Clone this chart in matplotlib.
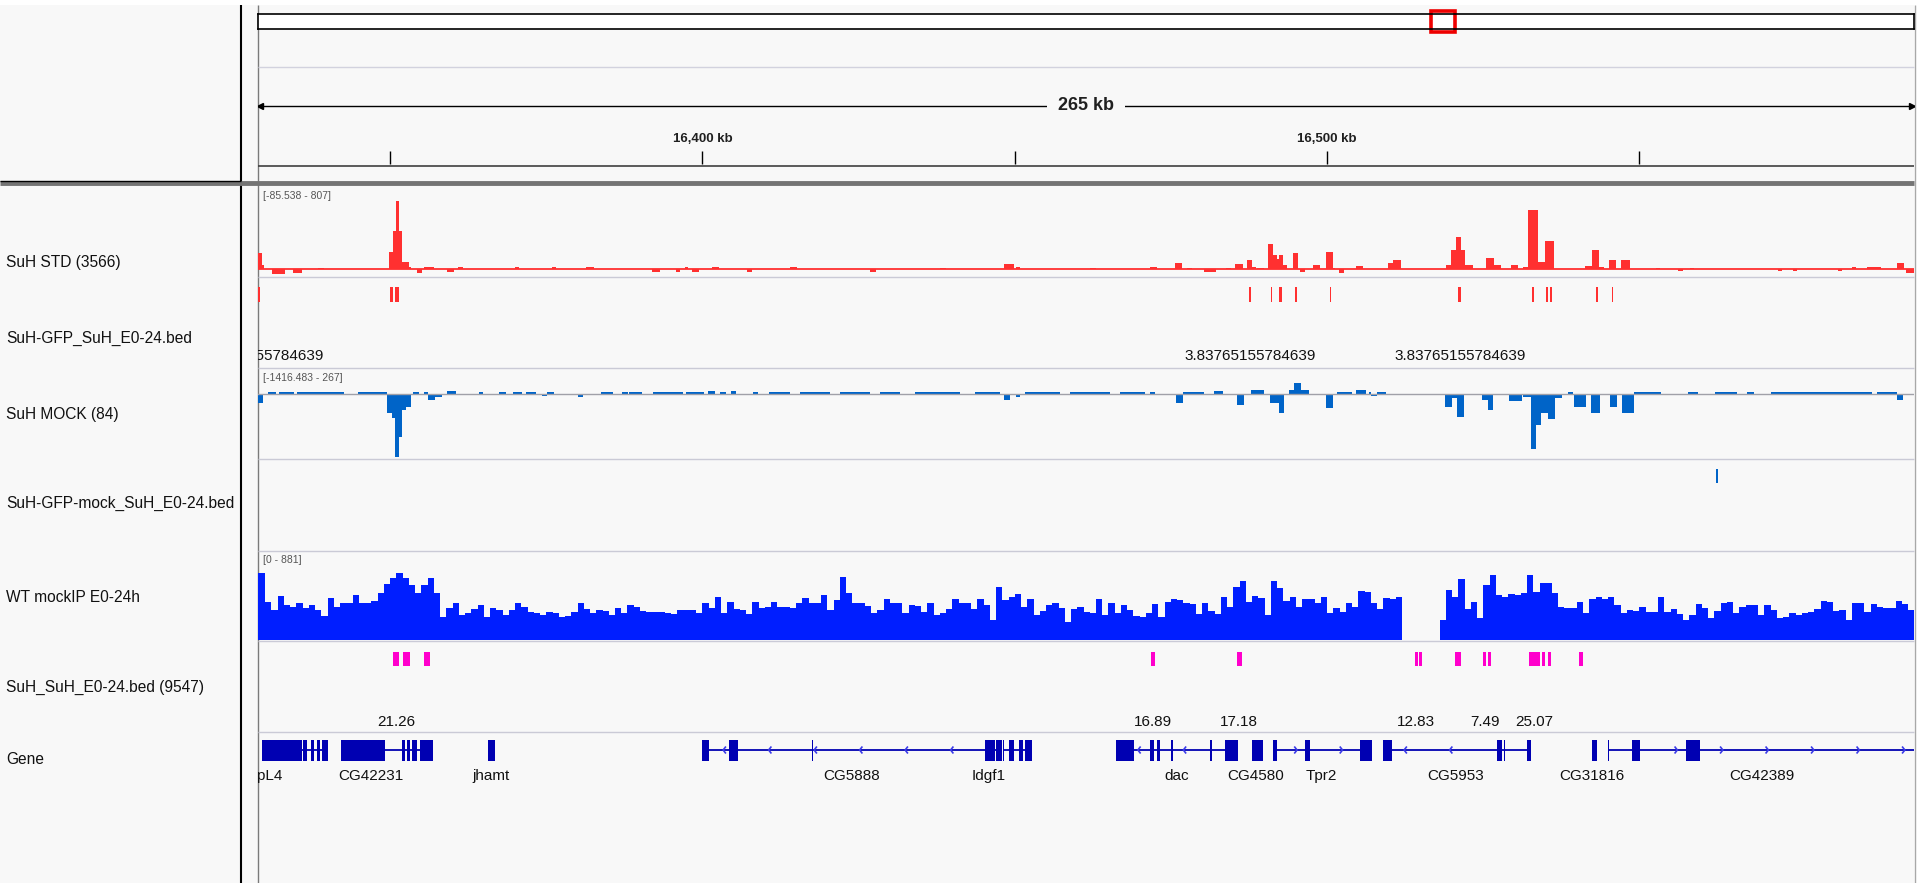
import numpy as np
import matplotlib.pyplot as plt
from matplotlib.patches import Rectangle
from matplotlib.collections import LineCollection

plt.rcParams['font.family'] = ['Liberation Sans', 'DejaVu Sans']

W, H = 1920, 883
REGION = (16328.85, 16593.95)   # chr2L, kb
CHROM_LEN = 23011.544           # chr2L length, kb

RED = '#ff3030'
MOCK_BLUE = '#0064c8'
WT_BLUE = '#001eff'
GENE_BLUE = '#0000b2'
MAGENTA = '#ff00cc'
PANEL = '#f8f8f8'

# ---- ruler ----
ruler_ticks = [16350, 16400, 16450, 16500, 16550]
ruler_labeled = [16400, 16500]

# ---- track names ----
track_names = ['SuH STD (3566)', 'SuH-GFP_SuH_E0-24.bed', 'SuH MOCK (84)',
               'SuH-GFP-mock_SuH_E0-24.bed', 'WT mockIP E0-24h',
               'SuH_SuH_E0-24.bed (9547)', 'Gene']

# ---- SuH STD coverage (kb start, kb end, value) ----
std_start = [16328.85, 16329.49, 16331.1, 16334.5, 16338.5, 16349.8, 16350.5, 16350.9,
             16351.4, 16351.9, 16353.0, 16354.3, 16355.4, 16359.1, 16360.9, 16370.0,
             16375.9, 16381.4, 16391.9, 16395.8, 16397.2, 16398.3, 16401.5, 16407.1,
             16414.0, 16426.8, 16438.0, 16448.3, 16450.2, 16462.1, 16471.7, 16475.7,
             16477.6, 16480.3, 16483.8, 16485.2, 16487.2, 16488.0, 16488.8, 16490.6,
             16491.4, 16491.9, 16492.3, 16492.9, 16494.6, 16495.7, 16497.8, 16499.8,
             16500.9, 16501.9, 16504.6, 16509.8, 16510.6, 16519.0, 16519.8, 16520.6,
             16521.4, 16522.0, 16525.4, 16526.7, 16529.5, 16531.4, 16532.2, 16533.8,
             16534.9, 16541.3, 16542.4, 16543.6, 16545.1, 16547.1, 16552.7, 16556.2,
             16558.1, 16572.2, 16574.6, 16581.8, 16584.1, 16586.5, 16591.2, 16592.7]
std_end = [16329.49, 16329.8, 16333.2, 16335.9, 16339.4, 16350.5, 16350.9, 16351.4,
           16351.9, 16353.0, 16353.4, 16355.1, 16357.0, 16360.2, 16361.7, 16370.6,
           16376.6, 16382.6, 16393.2, 16396.4, 16397.7, 16399.4, 16402.6, 16407.9,
           16415.1, 16427.8, 16439.0, 16449.9, 16450.85, 16463.0, 16472.8, 16476.8,
           16478.4, 16482.2, 16484.6, 16486.5, 16488.0, 16488.6, 16489.9, 16491.4,
           16491.9, 16492.3, 16492.9, 16493.6, 16495.4, 16496.5, 16498.8, 16500.9,
           16501.3, 16502.7, 16505.8, 16510.6, 16511.8, 16519.8, 16520.6, 16521.4,
           16522.0, 16523.3, 16526.7, 16527.8, 16530.6, 16532.2, 16533.8, 16534.9,
           16536.3, 16542.4, 16543.6, 16544.3, 16546.2, 16548.5, 16553.3, 16557.0,
           16558.8, 16572.8, 16575.3, 16582.5, 16584.7, 16588.7, 16592.4, 16594.0]
std_val = [185, 48, -52, -40, 15, 196, 431, 766,
           431, 85, 28, -40, 25, -30, 22, 22,
           22, 22, -30, -30, 22, -30, 22, -30,
           30, -25, 20, 55, 25, 20, 30, 75,
           20, -25, 20, 56, 104, 30, 10, 283,
           160, 112, 160, 48, 179, -25, 48, 196,
           20, -37, 37, 67, 104, 48, 216, 357,
           216, 48, 123, 48, 48, 30, 664, 85,
           320, 37, 212, 22, 104, 104, 20, -20,
           15, -20, -20, -20, 22, 22, 67, -37]

# ---- SuH MOCK coverage ----
mock_start = [16328.85, 16349.58, 16350.27, 16350.85, 16351.47, 16351.98, 16352.54, 16355.99,
              16357.12, 16374.29, 16380.0, 16448.28, 16450.21, 16475.74, 16485.65, 16490.92,
              16492.27, 16499.8, 16507.04, 16518.84, 16520.01, 16520.81, 16524.73, 16525.77,
              16529.06, 16531.43, 16532.61, 16533.4, 16534.18, 16535.35, 16536.53, 16539.55,
              16542.28, 16545.28, 16547.15, 16591.19,
              16330.45, 16332.15, 16335.09, 16344.86, 16353.67, 16355.43, 16359.11, 16364.23,
              16367.43, 16369.68, 16371.76, 16375.12, 16383.72, 16387.13, 16388.25, 16392.01,
              16397.37, 16400.89, 16402.81, 16404.57, 16408.02, 16410.6, 16415.62, 16422.03,
              16428.43, 16434.04, 16443.64, 16451.65, 16458.85, 16466.86, 16471.66, 16476.85,
              16481.87, 16487.78, 16493.87, 16494.67, 16495.84, 16501.54, 16504.64, 16506.65,
              16508.0, 16538.5, 16549.12, 16557.76, 16562.09, 16567.21, 16571.13, 16588.05]
mock_end = [16329.65, 16350.27, 16350.85, 16351.47, 16351.98, 16352.54, 16353.41, 16357.12,
            16358.28, 16375.12, 16380.88, 16449.25, 16450.85, 16476.85, 16486.75, 16492.27,
            16493.05, 16500.9, 16508.0, 16520.01, 16520.81, 16521.98, 16525.77, 16526.54,
            16531.27, 16532.61, 16533.4, 16534.18, 16535.35, 16536.53, 16537.56, 16541.5,
            16543.71, 16546.39, 16549.12, 16592.14,
            16331.73, 16334.55, 16342.55, 16349.58, 16354.56, 16355.99, 16360.55, 16364.87,
            16368.55, 16371.12, 16373.36, 16376.24, 16385.69, 16388.01, 16390.33, 16396.89,
            16400.25, 16402.01, 16403.77, 16405.38, 16408.9, 16414.03, 16420.43, 16426.83,
            16431.63, 16441.24, 16447.64, 16457.25, 16465.26, 16470.86, 16472.46, 16480.3,
            16483.3, 16489.9, 16494.67, 16495.84, 16497.08, 16503.91, 16506.24, 16507.04,
            16509.37, 16539.29, 16553.44, 16559.33, 16565.64, 16568.36, 16587.25, 16591.19]
mock_val = [-183, -416, -525, -1364, -927, -343, -271, -125,
            -66, -37, -66, -130, -60, -197, -234, -197,
            -402, -306, -37, -271, -80, -503, -125, -343,
            -139, -51, -1203, -671, -416, -547, -80, -271,
            -416, -271, -402, -125,
            45, 45, 45, 45, 45, 45, 79, 45,
            45, 45, 45, 45, 45, 45, 45, 45,
            45, 79, 45, 79, 45, 45, 45, 45,
            45, 45, 45, 45, 45, 45, 45, 45,
            79, 88, 88, 254, 88, 45, 88, 45,
            45, 45, 45, 45, 45, 45, 45, 45]

# ---- WT mockIP coverage, 1 kb bins from 16,329 kb ----
wt_first_bin = 16329
wt_val = [734, 422, 330, 484, 385, 360, 404, 356, 385, 330, 264, 459, 367, 404, 404, 495,
          404, 411, 433, 514, 617, 679, 741, 679, 606, 514, 606, 679, 514, 257, 349, 404,
          275, 294, 338, 385, 257, 349, 330, 275, 330, 411, 367, 312, 294, 275, 312, 294,
          257, 264, 312, 404, 338, 294, 330, 323, 275, 349, 294, 385, 367, 323, 312, 305,
          305, 294, 290, 330, 330, 330, 301, 411, 349, 470, 294, 422, 338, 330, 286, 422,
          349, 367, 422, 367, 367, 349, 411, 459, 404, 404, 495, 330, 440, 690, 514, 404,
          404, 374, 294, 330, 448, 404, 411, 294, 385, 374, 312, 411, 275, 294, 338, 448,
          411, 411, 338, 448, 385, 220, 587, 440, 477, 506, 367, 448, 275, 323, 385, 411,
          349, 202, 338, 367, 312, 294, 448, 275, 411, 294, 385, 330, 264, 257, 301, 396,
          257, 422, 448, 440, 411, 396, 286, 411, 323, 286, 470, 367, 580, 653, 422, 484,
          459, 275, 653, 569, 433, 477, 367, 448, 448, 411, 470, 294, 349, 312, 404, 367,
          543, 532, 404, 338, 459, 448, 470, 0, 0, 0, 0, 0, 0, 220, 551, 477,
          668, 338, 422, 239, 606, 716, 495, 475, 506, 495, 521, 716, 532, 624, 631, 514,
          367, 349, 349, 422, 301, 448, 477, 448, 470, 385, 301, 330, 323, 367, 312, 312,
          470, 312, 338, 286, 220, 275, 396, 349, 239, 323, 411, 422, 294, 367, 385, 385,
          275, 385, 330, 239, 250, 294, 275, 301, 312, 338, 433, 422, 323, 330, 220, 411,
          411, 312, 396, 367, 349, 349, 433, 396, 330]

# ---- BED features ----
red_start = [16328.7, 16350.0, 16350.85, 16487.5, 16491.0, 16492.3, 16494.9, 16500.4,
             16521.0, 16532.8, 16535.05, 16535.6, 16543.0, 16545.6]
red_end = [16329.1, 16350.5, 16351.5, 16487.8, 16491.2, 16492.7, 16495.1, 16500.6,
           16521.5, 16533.05, 16535.3, 16536.0, 16543.4, 16545.8]
red_label = ['3.83765155784639', '', '', '3.83765155784639', '', '', '', '',
             '3.83765155784639', '', '', '', '', '']

mockbed_start = [16562.2]
mockbed_end = [16562.5]

mag_start = [16350.5, 16352.1, 16355.4, 16471.85, 16485.5, 16514.05, 16514.7, 16520.5,
             16524.95, 16525.8, 16532.3, 16534.4, 16535.3, 16540.4]
mag_end = [16351.5, 16353.2, 16356.4, 16472.4, 16486.3, 16514.5, 16515.15, 16521.4,
           16525.45, 16526.3, 16534.05, 16534.9, 16535.8, 16540.9]
mag_score = ['21.26', '', '', '16.89', '17.18', '12.83', '', '', '7.49', '', '25.07', '', '', '']

# ---- genes ----
gene_names = ['RpL4', 'CG42231', 'jhamt', 'CG5888', 'Idgf1', 'dac', 'CG4580', 'Tpr2',
              'CG5953', 'CG31816', 'CG42389']
gene_strand = ['+', '+', '+', '-', '-', '-', '+', '+', '-', '+', '+']
gene_start = [16329.49, 16342.14, 16365.59, 16399.89, 16448.04, 16466.28, 16487.90, 16491.32,
              16508.90, 16542.34, 16544.92]
gene_end = [16340.06, 16356.87, 16366.79, 16447.90, 16452.70, 16485.75, 16489.78, 16507.20,
            16532.65, 16543.22, 16600.0]
gene_label_kb = [16329.97, 16346.91, 16366.15, 16423.95, 16445.82, 16475.98, 16488.63,
                 16499.13, 16520.59, 16542.42, 16569.57]
gene_exons = [
    [(16329.49, 16335.83), (16336.13, 16336.77), (16337.26, 16337.82), (16338.30, 16338.78),
     (16339.10, 16340.06)],
    [(16342.14, 16349.18), (16351.90, 16352.38), (16352.70, 16353.26), (16353.58, 16354.31),
     (16354.71, 16356.87)],
    [(16365.59, 16366.79)],
    [(16399.89, 16401.01), (16404.18, 16405.70), (16417.46, 16417.63), (16445.16, 16446.88),
     (16447.05, 16447.90)],
    [(16448.04, 16448.28), (16449.02, 16449.89), (16450.69, 16451.33), (16451.59, 16452.70)],
    [(16466.28, 16469.03), (16471.60, 16472.28), (16472.72, 16473.31), (16475.02, 16475.34),
     (16481.27, 16481.59), (16483.61, 16485.75)],
    [(16487.90, 16489.78)],
    [(16491.32, 16491.99), (16496.47, 16497.32), (16505.22, 16507.20)],
    [(16508.90, 16510.35), (16527.16, 16528.01), (16528.36, 16528.52), (16532.01, 16532.65)],
    [(16542.34, 16543.22)],
    [(16544.92, 16545.08), (16548.78, 16550.06), (16557.52, 16559.75)],
]

# ======================================================================
fig = plt.figure(figsize=(W / 100, H / 100), dpi=100, facecolor='white')
PX_PER_KB = (1914 - 258) / (REGION[1] - REGION[0])


def px_axes(x0, y0, x1, y1, xlim=REGION):
    ax = fig.add_axes([x0 / W, 1 - y1 / H, (x1 - x0) / W, (y1 - y0) / H])
    ax.set_xlim(*xlim)
    ax.axis('off')
    return ax


# background and panel frame
base = fig.add_axes([0, 0, 1, 1])
base.set_xlim(0, W)
base.set_ylim(H, 0)
base.axis('off')
base.add_patch(Rectangle((0, 5), 1914, H - 5, color=PANEL, lw=0))
base.vlines(241, 5, H, color='black', lw=1.5)
base.vlines(258, 5, H, color='#7a7a7a', lw=1)
base.vlines(1914.5, 5, H, color='#a8a8a8', lw=1)
base.hlines(66.5, 258, 1914, color='#d2d2de', lw=1)
base.hlines(166, 258, 1914, color='#404040', lw=1.2)
base.hlines(183, 0, 1914, color='#747474', lw=3.5)
base.hlines(180.5, 0, 241, color='black', lw=1)
base.hlines([277, 367.5, 459, 550.5, 641, 731.5], 258, 1914, color='#cacad6', lw=1)

# chromosome ideogram
ideo = px_axes(258, 13.5, 1914, 28.5, xlim=(0, CHROM_LEN))
ideo.axis('on')
ideo.set_facecolor('white')
ideo.set_xticks([])
ideo.set_yticks([])
for sp in ideo.spines.values():
    sp.set_linewidth(1.2)
box_w = 24 / 1656 * CHROM_LEN
ideo.add_patch(Rectangle((sum(REGION) / 2 - box_w / 2, -0.2), box_w, 1.4,
                         fill=False, ec='#ee0000', lw=2.6, clip_on=False))
ideo.set_ylim(0, 1)

# ruler
ruler = px_axes(258, 90, 1914, 166)
ruler.set_ylim(166, 90)
span_kb = REGION[1] - REGION[0]
ruler.plot([REGION[0] + 0.15, REGION[1] - 0.15], [106, 106], color='black', lw=1)
ruler.plot([REGION[0] + 0.4], [106], marker='<', color='black', ms=5)
ruler.plot([REGION[1] - 0.4], [106], marker='>', color='black', ms=5)
ruler.text(sum(REGION) / 2, 106, f'{span_kb:.0f} kb', ha='center', va='center',
           fontsize=13, fontweight='bold', color='#202020',
           bbox=dict(boxstyle='square,pad=0.6', fc=PANEL, ec='none'))
ruler.vlines(ruler_ticks, 151, 164, color='black', lw=1)
for t in ruler_labeled:
    ruler.text(t, 139, f'{t:,} kb', ha='center', va='center', fontsize=9.5,
               fontweight='bold', color='#202020')

# track names
name_y = [263, 338, 414, 503, 597.6, 687, 759]
for name, y in zip(track_names, name_y):
    base.text(6, y, name, ha='left', va='center', fontsize=11.2, color='#111111')

# data range labels
base.text(263, 196, '[-85.538 - 807]', fontsize=7.5, color='#555555', va='center')
base.text(263, 378, '[-1416.483 - 267]', fontsize=7.5, color='#555555', va='center')
base.text(263, 560, '[0 - 881]', fontsize=7.5, color='#555555', va='center')

# SuH STD
std_ax = px_axes(258, 197, 1914, 277)
std_ax.set_ylim(-85.538, 807)
std_ax.axhline(0, color=RED, lw=1.3)
std_ax.bar(std_start, std_val, width=np.subtract(std_end, std_start), align='edge',
           color=RED, lw=0)

# SuH MOCK
mock_ax = px_axes(258, 382, 1914, 459)
mock_ax.set_ylim(-1416.483, 267)
mock_ax.axhline(0, color='#a0a0a8', lw=1)
mock_ax.bar(mock_start, mock_val, width=np.subtract(mock_end, mock_start), align='edge',
            color=MOCK_BLUE, lw=0)

# WT mockIP
wt_ax = px_axes(258, 560, 1914, 640)
wt_ax.set_ylim(0, 881)
edges = wt_first_bin + np.arange(len(wt_val) + 1, dtype=float)
edges[0] = REGION[0]
wt_ax.stairs(wt_val, edges, fill=True, color=WT_BLUE, lw=0)

# feature tracks (y in pixels)
feat = px_axes(258, 186, 1914, H)
feat.set_ylim(H, 186)
min_w = 1.2 / PX_PER_KB


def draw_bed(starts, ends, y0, y1, color):
    for s, e in zip(starts, ends):
        w = max(e - s, min_w)
        feat.add_patch(Rectangle((s, y0), w, y1 - y0, color=color, lw=0))


draw_bed(red_start, red_end, 287, 302, RED)
for s, e, lab in zip(red_start, red_end, red_label):
    if lab:
        feat.text((s + e) / 2, 356, lab, ha='center', va='center', fontsize=11,
                  color='#111111', clip_on=True)

draw_bed(mockbed_start, mockbed_end, 469, 483, MOCK_BLUE)

draw_bed(mag_start, mag_end, 652, 666, MAGENTA)
for s, e, lab in zip(mag_start, mag_end, mag_score):
    if lab:
        feat.text((s + e) / 2, 722, lab, ha='center', va='center', fontsize=11,
                  color='#111111', clip_on=True)

# gene track
GENE_Y = 750
chev = []
step = 45.5 / PX_PER_KB
dx = 2.8 / PX_PER_KB
for name, strand, gs, ge, lx, exons in zip(gene_names, gene_strand, gene_start, gene_end,
                                           gene_label_kb, gene_exons):
    feat.plot([gs, ge], [GENE_Y, GENE_Y], color=GENE_BLUE, lw=1.3, solid_capstyle='butt')
    for s, e in exons:
        feat.add_patch(Rectangle((s, GENE_Y - 10.5), max(e - s, min_w), 21,
                                 color=GENE_BLUE, lw=0))
    for x in np.arange(gs + step / 2, ge, step):
        if any(s - dx <= x <= e + dx for s, e in exons):
            continue
        tip, tail = (x - dx / 2, x + dx / 2) if strand == '-' else (x + dx / 2, x - dx / 2)
        chev.append([(tail, GENE_Y - 3.5), (tip, GENE_Y), (tail, GENE_Y + 3.5)])
    feat.text(lx, 776, name, ha='center', va='center', fontsize=11, color='#111111',
              clip_on=True)
feat.add_collection(LineCollection(chev, colors='#3a3ae8', lw=1.2))

fig.savefig('out.png', dpi=100, facecolor=fig.get_facecolor())
